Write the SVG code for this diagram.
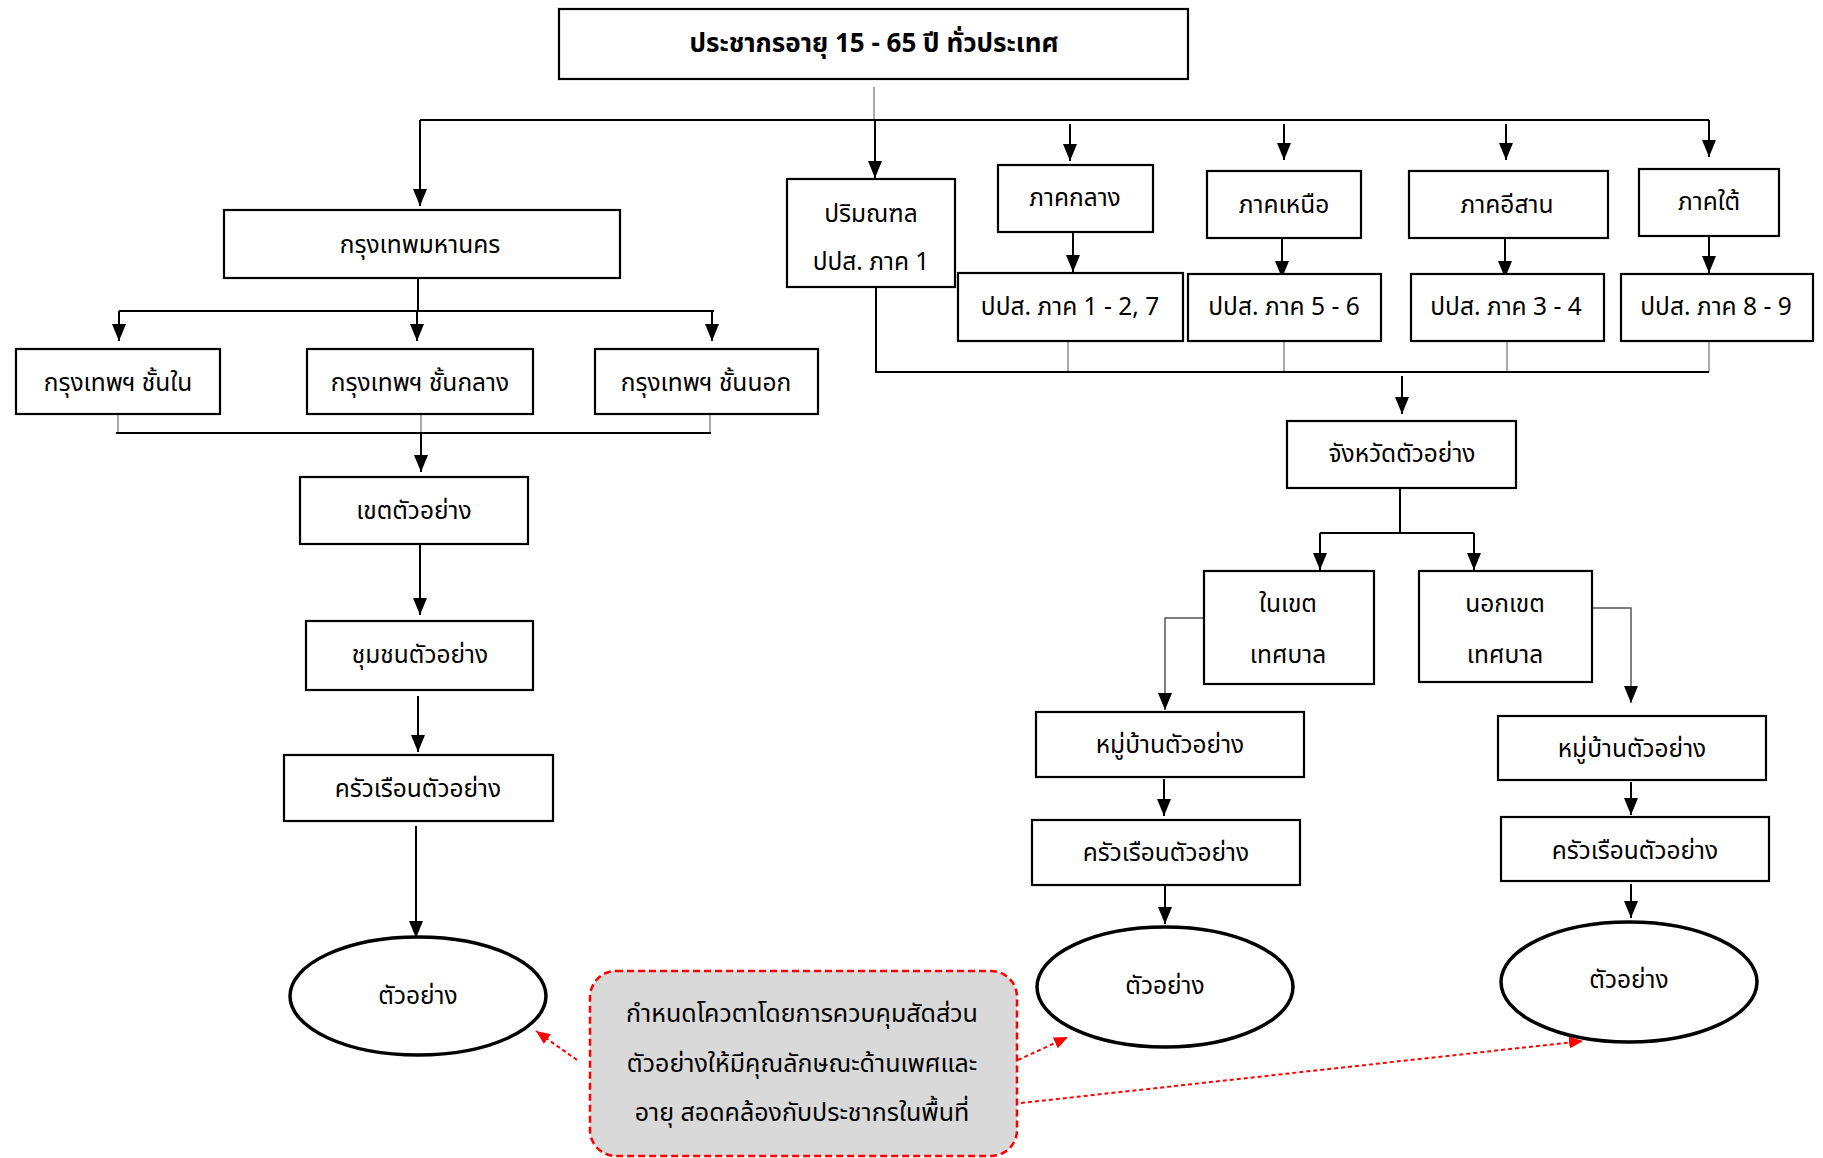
<svg xmlns="http://www.w3.org/2000/svg" width="1823" height="1158" viewBox="0 0 1823 1158">
<defs>
<style>
.box{fill:#fff;stroke:#000;stroke-width:2.2}
.ell{fill:#fff;stroke:#000;stroke-width:3.5}
.t{font-family:"Noto Sans Thai","Noto Sans","DejaVu Sans",sans-serif;font-size:24.5px;fill:#000;text-anchor:middle;dominant-baseline:central}
.tb{font-weight:bold;font-size:26px}
.tn{font-size:25px}
.c{fill:none;stroke:#000;stroke-width:2}
.g{fill:none;stroke:#aaa;stroke-width:2}
.d{fill:none;stroke:#555;stroke-width:1.5}
.a{marker-end:url(#ah)}
.r{fill:none;stroke:#f00;stroke-width:2;stroke-dasharray:4 3;marker-end:url(#rh)}
.call{fill:#d9d9d9;stroke:#f00;stroke-width:2.5;stroke-dasharray:7 4}
</style>
<marker id="ah" markerUnits="userSpaceOnUse" markerWidth="17" markerHeight="14" refX="17" refY="7" orient="auto" viewBox="0 0 17 14">
<path d="M0,0 L17,7 L0,14 z" fill="#000"/>
</marker>
<marker id="rh" markerUnits="userSpaceOnUse" markerWidth="14" markerHeight="12" refX="14" refY="6" orient="auto" viewBox="0 0 14 12">
<path d="M0,0 L14,6 L0,12 z" fill="#f00"/>
</marker>
</defs>
<rect width="1823" height="1158" fill="#fff"/>

<g id="connectors">
<path class="g" d="M874,87 V120"/>
<path class="c" d="M420,120 H1709"/>
<path class="c a" d="M420,120 V206"/>
<path class="c a" d="M875,120 V178"/>
<path class="c a" d="M1070,124 V161"/>
<path class="c a" d="M1284,124 V160"/>
<path class="c a" d="M1506,124 V160"/>
<path class="c a" d="M1709,120 V157"/>
<path class="c a" d="M1073,233 V272"/>
<path class="c a" d="M1282,239 V278"/>
<path class="c a" d="M1505,239 V278"/>
<path class="c a" d="M1709,237 V273"/>
<path class="g" d="M1068,341 V372 M1284,341 V372 M1507,341 V372 M1709,341 V372"/>
<path class="c" d="M876,287 V372 H1709"/>
<path class="c a" d="M1402,376 V414"/>
<path class="c" d="M1400,489 V533 M1320,533 H1474"/>
<path class="c a" d="M1320,533 V570"/>
<path class="c a" d="M1474,533 V570"/>
<path class="d a" d="M1204,618 H1165 V710"/>
<path class="d a" d="M1592,608 H1631 V703"/>
<path class="c a" d="M1164,779 V816"/>
<path class="c a" d="M1631,782 V815"/>
<path class="c a" d="M1165,886 V924"/>
<path class="c a" d="M1631,884 V918"/>
<path class="c" d="M418,278 V311 M119,311 H714"/>
<path class="c a" d="M119,311 V341"/>
<path class="c a" d="M417,311 V341"/>
<path class="c a" d="M712,311 V341"/>
<path class="g" d="M118,414 V433 M421,414 V433 M710,414 V433"/>
<path class="c" d="M116,433 H711"/>
<path class="c a" d="M421,433 V472"/>
<path class="c a" d="M420,544 V615"/>
<path class="c a" d="M418,696 V752"/>
<path class="c a" d="M416,826 V938"/>
<path class="r" d="M577,1060 L536,1031"/>
<path class="r" d="M1018,1060 L1068,1037"/>
<path class="r" d="M1021,1103 L1583,1041"/>
</g>

<g id="n-top"><rect class="box" x="559" y="9" width="629" height="70"/><text class="t tb" x="874" y="44">ประชากรอายุ 15 - 65 ปี ทั่วประเทศ</text></g>
<g id="n-bkk"><rect class="box" x="224" y="210" width="396" height="68"/><text class="t" x="420" y="245">กรุงเทพมหานคร</text></g>
<g id="n-inner"><rect class="box" x="16" y="349" width="204" height="65"/><text class="t" x="118" y="383">กรุงเทพฯ ชั้นใน</text></g>
<g id="n-middle"><rect class="box" x="307" y="349" width="226" height="65"/><text class="t" x="420" y="383">กรุงเทพฯ ชั้นกลาง</text></g>
<g id="n-outer"><rect class="box" x="595" y="349" width="223" height="65"/><text class="t" x="706" y="383">กรุงเทพฯ ชั้นนอก</text></g>
<g id="n-khet"><rect class="box" x="300" y="477" width="228" height="67"/><text class="t" x="414" y="511">เขตตัวอย่าง</text></g>
<g id="n-chumchon"><rect class="box" x="306" y="621" width="227" height="69"/><text class="t" x="420" y="655">ชุมชนตัวอย่าง</text></g>
<g id="n-hh1"><rect class="box" x="284" y="755" width="269" height="66"/><text class="t" x="418" y="789">ครัวเรือนตัวอย่าง</text></g>
<g id="n-s1"><ellipse class="ell" cx="418" cy="996" rx="128" ry="59"/><text class="t" x="418" y="996">ตัวอย่าง</text></g>

<g id="n-perim"><rect class="box" x="787" y="179" width="168" height="108"/><text class="t" x="871" y="214">ปริมณฑล</text><text class="t" x="871" y="262">ปปส. ภาค 1</text></g>
<g id="n-central"><rect class="box" x="998" y="165" width="155" height="67"/><text class="t" x="1075" y="198">ภาคกลาง</text></g>
<g id="n-north"><rect class="box" x="1207" y="171" width="154" height="67"/><text class="t" x="1284" y="205">ภาคเหนือ</text></g>
<g id="n-ne"><rect class="box" x="1409" y="171" width="199" height="67"/><text class="t" x="1507" y="205">ภาคอีสาน</text></g>
<g id="n-south"><rect class="box" x="1639" y="169" width="140" height="67"/><text class="t" x="1709" y="202">ภาคใต้</text></g>
<g id="n-r127"><rect class="box" x="958" y="273" width="225" height="68"/><text class="t" x="1070" y="307">ปปส. ภาค 1 - 2, 7</text></g>
<g id="n-r56"><rect class="box" x="1188" y="274" width="193" height="67"/><text class="t" x="1284" y="307">ปปส. ภาค 5 - 6</text></g>
<g id="n-r34"><rect class="box" x="1411" y="274" width="193" height="67"/><text class="t" x="1506" y="307">ปปส. ภาค 3 - 4</text></g>
<g id="n-r89"><rect class="box" x="1621" y="274" width="192" height="67"/><text class="t" x="1716" y="307">ปปส. ภาค 8 - 9</text></g>
<g id="n-prov"><rect class="box" x="1287" y="421" width="229" height="67"/><text class="t" x="1402" y="454">จังหวัดตัวอย่าง</text></g>
<g id="n-inmun"><rect class="box" x="1204" y="571" width="170" height="113"/><text class="t" x="1288" y="604">ในเขต</text><text class="t" x="1288" y="655">เทศบาล</text></g>
<g id="n-outmun"><rect class="box" x="1419" y="571" width="173" height="111"/><text class="t" x="1505" y="604">นอกเขต</text><text class="t" x="1505" y="655">เทศบาล</text></g>
<g id="n-vil1"><rect class="box" x="1036" y="712" width="268" height="65"/><text class="t" x="1170" y="745">หมู่บ้านตัวอย่าง</text></g>
<g id="n-vil2"><rect class="box" x="1498" y="716" width="268" height="64"/><text class="t" x="1632" y="749">หมู่บ้านตัวอย่าง</text></g>
<g id="n-hh2"><rect class="box" x="1032" y="820" width="268" height="65"/><text class="t" x="1166" y="853">ครัวเรือนตัวอย่าง</text></g>
<g id="n-hh3"><rect class="box" x="1501" y="817" width="268" height="64"/><text class="t" x="1635" y="851">ครัวเรือนตัวอย่าง</text></g>
<g id="n-s2"><ellipse class="ell" cx="1165" cy="987" rx="128" ry="60"/><text class="t" x="1165" y="986">ตัวอย่าง</text></g>
<g id="n-s3"><ellipse class="ell" cx="1629" cy="982" rx="128" ry="60"/><text class="t" x="1629" y="980">ตัวอย่าง</text></g>

<g id="n-note"><rect class="call" x="590" y="971" width="427" height="185" rx="26"/>
<text class="t tn" x="802" y="1014">กำหนดโควตาโดยการควบคุมสัดส่วน</text>
<text class="t tn" x="802" y="1064">ตัวอย่างให้มีคุณลักษณะด้านเพศและ</text>
<text class="t tn" x="802" y="1113">อายุ สอดคล้องกับประชากรในพื้นที่</text></g>
</svg>
